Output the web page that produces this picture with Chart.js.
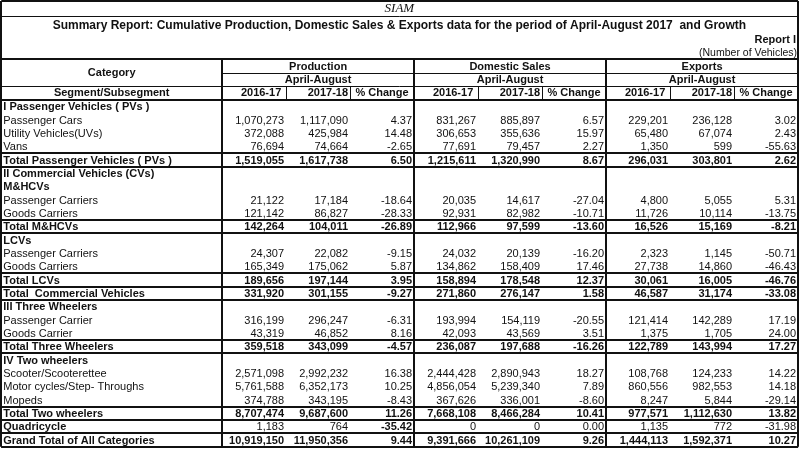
<!DOCTYPE html>
<html>
<head>
<meta charset="utf-8">
<script src="https://cdn.jsdelivr.net/npm/chart.js@4"></script>
<style>
  html, body { margin: 0; padding: 0; background: #fff; }
  canvas { display: block; }
</style>
</head>
<body>
<canvas id="report" width="800" height="464"></canvas>
<script>
// Row labels (Segment/Subsegment)
const categories = [
    'I Passenger Vehicles ( PVs )', 'Passenger Cars', 'Utility Vehicles(UVs)', 'Vans',
    'Total Passenger Vehicles ( PVs )', 'II Commercial Vehicles (CVs)', 'M&HCVs',
    'Passenger Carriers', 'Goods Carriers', 'Total M&HCVs', 'LCVs', 'Passenger Carriers',
    'Goods Carriers', 'Total LCVs', 'Total  Commercial Vehicles', 'III Three Wheelers',
    'Passenger Carrier', 'Goods Carrier', 'Total Three Wheelers', 'IV Two wheelers',
    'Scooter/Scooterettee', 'Motor cycles/Step- Throughs', 'Mopeds', 'Total Two wheelers',
    'Quadricycle', 'Grand Total of All Categories',
];
// head = section heading, item = plain row, total = bold row, single = bold label only
const rowTypes = [
    'head', 'item', 'item', 'item', 'total', 'head', 'head', 'item', 'item', 'total',
    'head', 'item', 'item', 'total', 'total', 'head', 'item', 'item', 'total', 'head',
    'item', 'item', 'item', 'total', 'single', 'total',
];

const groups = ['Production', 'Domestic Sales', 'Exports'];
const period = 'April-August';
const yearLabels = ['2016-17', '2017-18', '% Change'];

const prod1617 = [null, 1070273, 372088, 76694, 1519055, null, null, 21122, 121142, 142264, null, 24307, 165349, 189656, 331920, null, 316199, 43319, 359518, null, 2571098, 5761588, 374788, 8707474, 1183, 10919150];
const prod1718 = [null, 1117090, 425984, 74664, 1617738, null, null, 17184, 86827, 104011, null, 22082, 175062, 197144, 301155, null, 296247, 46852, 343099, null, 2992232, 6352173, 343195, 9687600, 764, 11950356];
const prodChange = [null, 4.37, 14.48, -2.65, 6.50, null, null, -18.64, -28.33, -26.89, null, -9.15, 5.87, 3.95, -9.27, null, -6.31, 8.16, -4.57, null, 16.38, 10.25, -8.43, 11.26, -35.42, 9.44];

const dom1617 = [null, 831267, 306653, 77691, 1215611, null, null, 20035, 92931, 112966, null, 24032, 134862, 158894, 271860, null, 193994, 42093, 236087, null, 2444428, 4856054, 367626, 7668108, 0, 9391666];
const dom1718 = [null, 885897, 355636, 79457, 1320990, null, null, 14617, 82982, 97599, null, 20139, 158409, 178548, 276147, null, 154119, 43569, 197688, null, 2890943, 5239340, 336001, 8466284, 0, 10261109];
const domChange = [null, 6.57, 15.97, 2.27, 8.67, null, null, -27.04, -10.71, -13.60, null, -16.20, 17.46, 12.37, 1.58, null, -20.55, 3.51, -16.26, null, 18.27, 7.89, -8.60, 10.41, 0.00, 9.26];

const exp1617 = [null, 229201, 65480, 1350, 296031, null, null, 4800, 11726, 16526, null, 2323, 27738, 30061, 46587, null, 121414, 1375, 122789, null, 108768, 860556, 8247, 977571, 1135, 1444113];
const exp1718 = [null, 236128, 67074, 599, 303801, null, null, 5055, 10114, 15169, null, 1145, 14860, 16005, 31174, null, 142289, 1705, 143994, null, 124233, 982553, 5844, 1112630, 772, 1592371];
const expChange = [null, 3.02, 2.43, -55.63, 2.62, null, null, 5.31, -13.75, -8.21, null, -50.71, -46.43, -46.76, -33.08, null, 17.19, 24.00, 17.27, null, 14.22, 14.18, -29.14, 13.82, -31.98, 10.27];

const columns = [prod1617, prod1718, prodChange, dom1617, dom1718, domChange, exp1617, exp1718, expChange];

// Layout in scale units: numeric column c spans x = c..c+1, row i spans y = i..i+1
const LABEL_LEFT = -3.45;
const FONT = '"Liberation Sans", Arial, sans-serif';

function fmt(v, isChange) {
    if (v === null) return '';
    return isChange ? v.toFixed(2) : v.toLocaleString('en-US');
}

const datasets = [{
    label: 'Segment/Subsegment',
    data: categories.map((c, i) => ({ x: LABEL_LEFT, y: i + 0.5 })),
    cells: categories,
    align: 'left',
}];
columns.forEach((col, c) => {
    const isChange = c % 3 === 2;
    datasets.push({
        label: groups[Math.floor(c / 3)] + ' ' + yearLabels[c % 3],
        data: col.map((v, i) => ({ x: c + 1, y: i + 0.5 })),
        cells: col.map((v) => fmt(v, isChange)),
        align: 'right',
        isChange: isChange,
        groupIndex: Math.floor(c / 3),
    });
});

function isBold(dsIndex, row, ds) {
    const t = rowTypes[row];
    if (t === 'head' || t === 'total') return true;
    if (t === 'single') return dsIndex === 0 || (ds.isChange && ds.groupIndex === 0);
    return false;
}

const tablePlugin = {
    id: 'tablePlugin',
    beforeDatasetsDraw(chart) {
        const { ctx, scales } = chart;
        const X = (v) => scales.x.getPixelForValue(v);
        const Y = (v) => scales.y.getPixelForValue(v);
        ctx.save();
        ctx.fillStyle = '#fff';
        ctx.fillRect(0, 0, chart.width, chart.height);
        ctx.strokeStyle = '#111';

        const hLine = (y, x0, x1, w) => {
            ctx.lineWidth = w;
            const py = w % 2 ? Math.round(Y(y)) + 0.5 : Math.round(Y(y));
            ctx.beginPath();
            ctx.moveTo(X(x0), py);
            ctx.lineTo(X(x1), py);
            ctx.stroke();
        };
        const vLine = (x, y0, y1, w) => {
            ctx.lineWidth = w;
            const px = w % 2 ? Math.round(X(x)) + 0.5 : Math.round(X(x));
            ctx.beginPath();
            ctx.moveTo(px, Y(y0));
            ctx.lineTo(px, Y(y1));
            ctx.stroke();
        };

        const last = categories.length;
        // header frame
        hLine(-7.42, LABEL_LEFT, 9, 2);
        hLine(-6.3, LABEL_LEFT, 9, 1);
        hLine(-3.05, LABEL_LEFT, 9, 2);
        hLine(-2, 0, 9, 1);
        hLine(-1.05, LABEL_LEFT, 9, 1);
        hLine(0, LABEL_LEFT, 9, 2);
        // rules around totals
        rowTypes.forEach((t, i) => {
            if (t === 'total' || t === 'single') {
                hLine(i, LABEL_LEFT, 9, 2);
                hLine(i + 1, LABEL_LEFT, 9, 2);
            }
        });
        hLine(last, LABEL_LEFT, 9, 2);
        // verticals
        vLine(LABEL_LEFT, -7.42, last, 2);
        vLine(9, -7.42, last, 2);
        [0, 3, 6].forEach((x) => vLine(x, -3.05, last, 2));
        [1, 2, 4, 5, 7, 8].forEach((x) => vLine(x, -1.05, 0, 1));
        ctx.restore();
    },
    afterDatasetsDraw(chart) {
        const { ctx, scales } = chart;
        const X = (v) => scales.x.getPixelForValue(v);
        const Y = (v) => scales.y.getPixelForValue(v);
        ctx.save();
        ctx.fillStyle = '#111';
        ctx.textBaseline = 'middle';

        // cells
        chart.data.datasets.forEach((ds, d) => {
            const meta = chart.getDatasetMeta(d);
            meta.data.forEach((pt, i) => {
                const txt = ds.cells[i];
                if (!txt) return;
                ctx.font = (isBold(d, i, ds) ? 'bold ' : '') + '11px ' + FONT;
                ctx.textAlign = ds.align;
                ctx.fillText(txt, ds.align === 'left' ? pt.x + 2 : pt.x - 2, pt.y + 0.5);
            });
        });

        // titles
        ctx.textAlign = 'center';
        ctx.font = 'italic 13px "Liberation Serif", "Times New Roman", serif';
        ctx.fillText('SIAM', X(2.77), Y(-6.88));
        ctx.font = 'bold 12px ' + FONT;
        ctx.fillText('Summary Report: Cumulative Production, Domestic Sales & Exports data for the period of April-August 2017  and Growth', X(2.77), Y(-5.55));
        ctx.textAlign = 'right';
        ctx.font = 'bold 11px ' + FONT;
        ctx.fillText('Report I', X(9) - 2, Y(-4.5));
        ctx.font = '10.5px ' + FONT;
        ctx.fillText('(Number of Vehicles)', X(9) - 1, Y(-3.55));

        // column headers
        ctx.font = 'bold 11px ' + FONT;
        ctx.textAlign = 'center';
        ctx.fillText('Category', (X(LABEL_LEFT) + X(0)) / 2, Y(-2.02));
        ctx.fillText('Segment/Subsegment', (X(LABEL_LEFT) + X(0)) / 2, Y(-0.5));
        groups.forEach((g, k) => {
            const mid = (X(k * 3) + X(k * 3 + 3)) / 2;
            ctx.fillText(g, mid, Y(-2.5));
            ctx.fillText(period, mid, Y(-1.5));
            yearLabels.forEach((yl, j) => {
                const c = k * 3 + j;
                if (j === 1) {
                    ctx.textAlign = 'right';
                    ctx.fillText(yl, X(c + 1) - 2, Y(-0.5));
                } else {
                    ctx.textAlign = 'center';
                    ctx.fillText(yl, (X(c) + X(c + 1)) / 2 + (j === 0 ? 7 : 0), Y(-0.5));
                }
            });
            ctx.textAlign = 'center';
        });
        ctx.restore();
    },
};

new Chart(document.getElementById('report').getContext('2d'), {
    type: 'scatter',
    data: { datasets: datasets },
    options: {
        responsive: false,
        animation: false,
        events: [],
        layout: { padding: 0 },
        elements: { point: { radius: 0, hoverRadius: 0 } },
        plugins: {
            legend: { display: false },
            tooltip: { enabled: false },
        },
        scales: {
            x: { type: 'linear', min: -3.47, max: 9.03, display: false },
            y: { type: 'linear', min: -7.5, max: 27.3, reverse: true, display: false },
        },
    },
    plugins: [tablePlugin],
});
</script>
</body>
</html>
